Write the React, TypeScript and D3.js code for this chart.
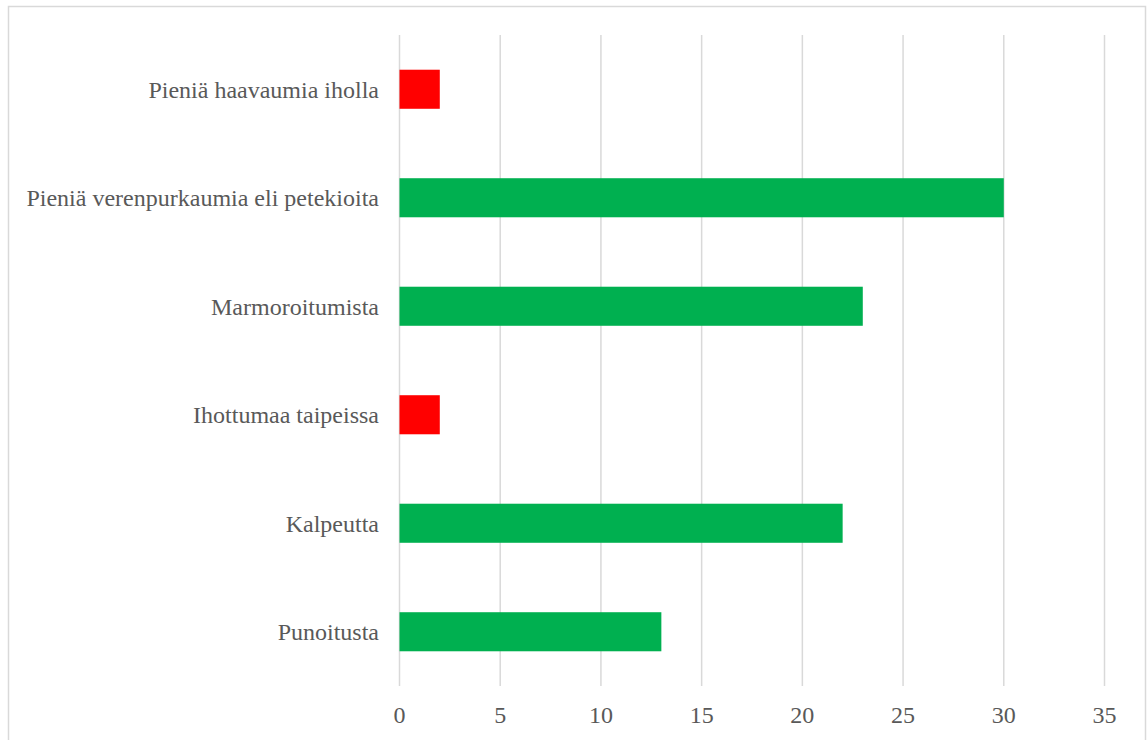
import React from "react";
import * as d3 from "d3";

const categories = [
  "Pieniä haavaumia iholla",
  "Pieniä verenpurkaumia eli petekioita",
  "Marmoroitumista",
  "Ihottumaa taipeissa",
  "Kalpeutta",
  "Punoitusta",
];
const values = [2, 30, 23, 2, 22, 13];
const barColors = ["#ff0000", "#00b050", "#00b050", "#ff0000", "#00b050", "#00b050"];
const xTicks = [0, 5, 10, 15, 20, 25, 30, 35];

const W = 1148;
const H = 740;

export default function App() {
  const x = d3.scaleLinear().domain([0, 35]).range([399.5, 1104.5]);
  const y = d3.scaleBand<string>().domain(categories).range([35, 686]).paddingInner(0.64).paddingOuter(0.32);
  const textStyle = { fontFamily: "Liberation Serif", fontSize: "24px" } as React.CSSProperties;
  return (
    <svg width={W} height={H} style={{ position: "absolute", left: 0, top: 0, background: "#fff" }}>
      <rect x={8.5} y={6.5} width={1137} height={760} fill="#fff" stroke="#d9d9d9" strokeWidth={1.5} />
      {xTicks.map((t) => (
        <line key={t} x1={x(t)} x2={x(t)} y1={35} y2={686} stroke="#d9d9d9" strokeWidth={1.5} />
      ))}
      {categories.map((c, i) => (
        <rect key={c} x={x(0)} y={y(c)} width={x(values[i]) - x(0)} height={y.bandwidth()} fill={barColors[i]} />
      ))}
      {categories.map((c) => (
        <text
          key={c}
          x={379}
          y={(y(c) as number) + y.bandwidth() / 2 + 8.5}
          textAnchor="end"
          style={textStyle}
          fill="#595959"
        >
          {c}
        </text>
      ))}
      {xTicks.map((t) => (
        <text key={t} x={x(t)} y={723} textAnchor="middle" style={textStyle} fill="#595959">
          {t}
        </text>
      ))}
    </svg>
  );
}
